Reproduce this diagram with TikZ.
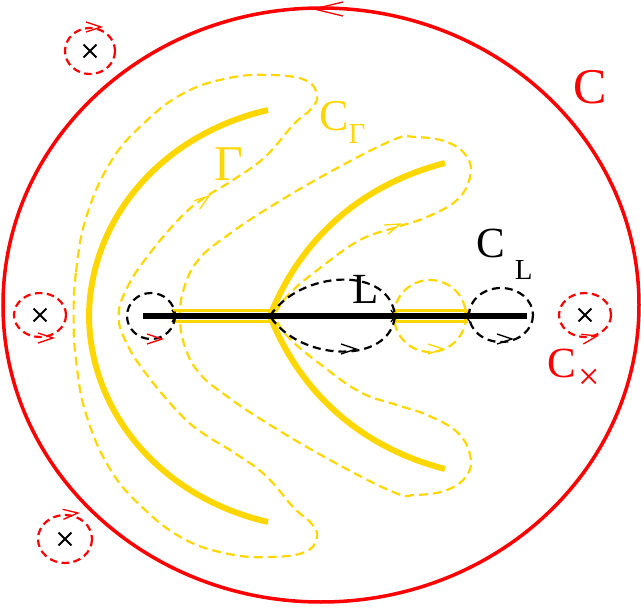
\documentclass[tikz,border=0pt]{standalone}
\usepackage{fontspec}
\setmainfont{Liberation Serif}
\usetikzlibrary{shapes.misc}

\definecolor{pred}{RGB}{255,0,0}
\definecolor{ygold}{RGB}{255,215,0}
\newcommand{\subsz}{\fontsize{29}{29}\selectfont}

\begin{document}
\begin{tikzpicture}[
  x=1pt, y=-1pt,
  font=\fontsize{43}{43}\selectfont,
  lbl/.style={inner sep=0pt, anchor=base west},
  bigloop/.style={pred, line width=3.5pt},
  xloop/.style={pred, line width=2.2pt, dash pattern=on 7.5pt off 4.5pt},
  gdash/.style={ygold, line width=2.2pt, dash pattern=on 9pt off 5pt},
  kdash/.style={black, line width=2.2pt, dash pattern=on 8pt off 5pt},
  garc/.style={ygold, line width=6pt, line join=round},
  lbar/.style={black, line width=6pt},
  gframe/.style={ygold, line width=3.5pt},
  xcross/.style={cross out, draw=black, line width=1.8pt, minimum size=11pt, inner sep=0pt},
  vtip/.pic={\draw[line width=1.3pt, solid] (-15,5) -- (0,0) -- (-15,-5);}
]
\useasboundingbox (0,0) rectangle (641,610);

% outer contour C
\coordinate (O) at (321,305);
\draw[bigloop] (O) ellipse [x radius=318, y radius=297];
\pic[pred, rotate=180, xscale=1.93, yscale=1.4] at (314,9) {vtip};

% poles with their small loops
\node[xcross] (pa) at (90,51) {};
\node[xcross] (pb) at (40,315) {};
\node[xcross] (pc) at (585,315) {};
\node[xcross] (pd) at (65,539) {};
\draw[xloop] (pa) ellipse [x radius=25, y radius=23];
\draw[xloop] (pb) ellipse [x radius=26, y radius=22];
\draw[xloop] (pc) ellipse [x radius=26, y radius=22];
\draw[xloop] (pd) ellipse [x radius=27, y radius=24];
\pic[pred] at (101,27) {vtip};
\pic[pred] at (53,338) {vtip};
\pic[pred, rotate=12] at (597,336) {vtip};
\pic[pred, rotate=5] at (78,513) {vtip};

% C_Gamma loops
\draw[gdash] plot[smooth cycle, tension=0.7] coordinates {
  (73.6,316) (76,272) (86,218) (110,163) (143,124) (184,93) (229,78) (270,75)
  (305,80) (317,95) (311,109) (294,124) (265,157) (233,180) (204,198) (180,218)
  (147,257) (127,288) (118.6,316) (127,344) (147,375) (180,414) (204,434)
  (233,452) (265,475) (294,508) (311,523) (317,537) (305,552) (270,557)
  (229,554) (184,539) (143,508) (110,469) (86,414) (76,360)};
\draw[gdash] plot[smooth, tension=0.7] coordinates {
  (276,312) (290,293) (320,268) (360,240) (397,227) (427,217) (457,200)
  (470,177) (467,157) (447,142) (415,137) (393,140) (330,172) (270,207)
  (228,235) (200,258) (185,285) (180,316) (185,347) (200,374) (228,397)
  (270,425) (330,460) (393,492) (415,495) (447,490) (467,475) (470,455)
  (457,432) (427,415) (397,405) (360,392) (320,364) (290,339) (276,320)};
\pic[ygold, rotate=36] at (209,196) {vtip};
\pic[ygold, rotate=22] at (400,224) {vtip};
\draw[gdash] (430,316) circle [radius=36];
\pic[ygold] at (443,349) {vtip};

% Gamma
\draw[garc] (268,110) .. controls (160,135) and (90,220) .. (89,316)
  .. controls (90,412) and (160,497) .. (268,522);
\draw[garc] (445,163) .. controls (360,185) and (300,240) .. (270,316)
  .. controls (300,392) and (360,447) .. (445,469);

% cut L
\coordinate (La) at (143,316);
\coordinate (Lb) at (176,316);
\coordinate (Lc) at (270,316);
\coordinate (Ld) at (395,316);
\coordinate (Le) at (466,316);
\coordinate (Lf) at (527,316);
\draw[gframe] (174,310.5) rectangle (270,321.5);
\draw[gframe] (395,310.5) rectangle (466,321.5);
\draw[lbar] (La) -- (Lf);
\pic[black, xscale=0.27, yscale=1.2] at (Lb) {vtip};
\pic[black, rotate=180, xscale=0.27, yscale=1.2] at (Lc) {vtip};
\pic[black, xscale=0.27, yscale=1.2] at (Ld) {vtip};
\pic[black, rotate=180, xscale=0.27, yscale=1.2] at (Le) {vtip};

% C_L
\draw[kdash] (151,316) ellipse [x radius=24, y radius=23];
\pic[pred] at (162,339) {vtip};
\draw[kdash] (Lc) .. controls (300,270) and (390,265) .. (Ld)
  .. controls (390,365) and (300,362) .. cycle;
\pic[black] at (356,349) {vtip};
\draw[kdash] (501,315) ellipse [x radius=32, y radius=27];
\pic[black] at (512,339) {vtip};

% labels
\node[lbl, pred, font=\fontsize{50}{50}\selectfont] (cbig) at (573,104) {C};
\node[lbl, ygold, font=\fontsize{50}{50}\selectfont] (gam) at (214,180) {Γ};
\node[lbl, ygold, font=\fontsize{44}{44}\selectfont] (cgam) at (319,131) {C\raisebox{-13pt}{\subsz Γ}};
\node[lbl] (lab) at (352,303) {L};
\node[lbl] (cl) at (476,257) {C\hspace{10pt}\raisebox{-22pt}{\subsz L}};
\node[lbl, pred] (cx) at (547,377) {C\hspace{3pt}\raisebox{-12pt}{\fontsize{38}{38}\selectfont ×}};
\end{tikzpicture}
\end{document}
